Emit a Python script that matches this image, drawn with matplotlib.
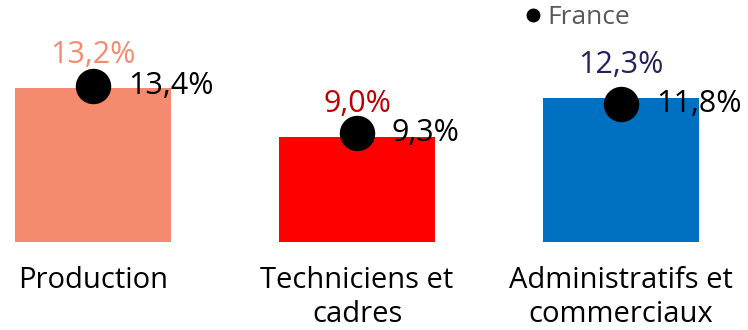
import matplotlib.pyplot as plt
from matplotlib.lines import Line2D

plt.rcParams['font.family'] = ['Open Sans', 'DejaVu Sans']

categories = ['Production', 'Techniciens et\ncadres', 'Administratifs et\ncommerciaux']
values = [13.2, 9.0, 12.3]
france = [13.4, 9.3, 11.8]
bar_colors = ['#F58B6E', '#FF0000', '#0070C0']
label_colors = ['#F58B6E', '#C00000', '#27225E']

fig = plt.figure(figsize=(7.48, 3.3), dpi=100)
ax = fig.add_axes([0, 88 / 330, 1, 242 / 330])

x = list(range(len(categories)))
ax.bar(x, values, width=0.59, color=bar_colors, zorder=1)
ax.scatter(x, france, s=600, color='black', zorder=3)

for i, v in enumerate(values):
    ax.annotate(f"{v:.1f}%".replace('.', ','), (i, v), xytext=(0, 24),
                textcoords='offset points', ha='center', va='center',
                fontsize=22, color=label_colors[i])
for i, v in enumerate(france):
    ax.annotate(f"{v:.1f}%".replace('.', ','), (i, v), xytext=(25, 0),
                textcoords='offset points', ha='left', va='center',
                fontsize=22, color='black')

ax.set_xlim(-93 / 264, 655 / 264)
ax.set_ylim(0, 242 / 11.67)
ax.set_xticks(x)
ax.set_xticklabels(categories, fontsize=21, color='black', linespacing=1.25)
ax.tick_params(axis='x', length=0, pad=17)
ax.set_yticks([])
for s in ax.spines.values():
    s.set_visible(False)

handle = Line2D([], [], marker='o', ls='', color='black', markersize=9)
fig.legend([handle], ['France'], loc='center left', bbox_to_anchor=(0.681, 0.947),
           frameon=False, fontsize=19, labelcolor='#595959',
           handletextpad=0.15, handlelength=0.8, borderpad=0)

fig.savefig('out.png', dpi=100)
